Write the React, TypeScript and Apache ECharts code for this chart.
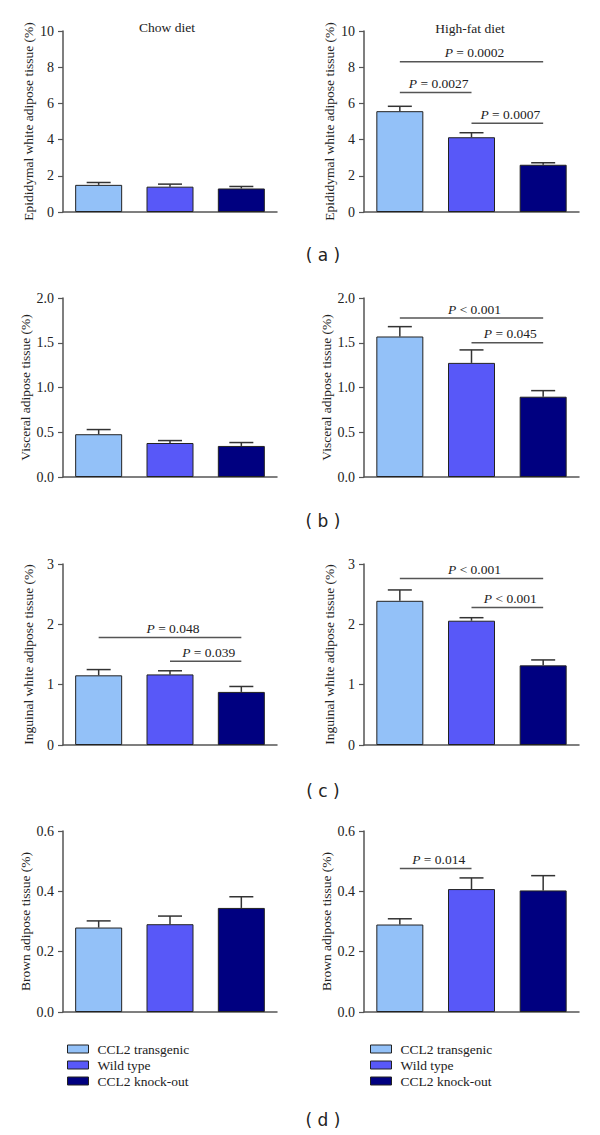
import React, { useEffect, useRef } from "react";
import * as echarts from "echarts";

const groups = ["CCL2 transgenic", "Wild type", "CCL2 knock-out"];
const colors = ["#93c1f8", "#5858f8", "#000080"];

// means and SEM per panel: [chow, high-fat]
const epiMeanChow = [1.5, 1.4, 1.3];
const epiSemChow = [0.13, 0.14, 0.11];
const epiMeanHfd = [5.57, 4.13, 2.61];
const epiSemHfd = [0.27, 0.25, 0.11];

const visMeanChow = [0.478, 0.38, 0.347];
const visSemChow = [0.052, 0.027, 0.038];
const visMeanHfd = [1.57, 1.275, 0.897];
const visSemHfd = [0.11, 0.145, 0.068];

const ingMeanChow = [1.155, 1.17, 0.88];
const ingSemChow = [0.095, 0.06, 0.09];
const ingMeanHfd = [2.39, 2.06, 1.32];
const ingSemHfd = [0.18, 0.05, 0.09];

const brnMeanChow = [0.28, 0.291, 0.345];
const brnSemChow = [0.022, 0.027, 0.037];
const brnMeanHfd = [0.29, 0.4075, 0.403];
const brnSemHfd = [0.019, 0.037, 0.049];

// significance brackets: [fromCategory, toCategory, yLevel, operator, p]
const sigEpiHfd: [number, number, number, string, string][] = [
  [0, 2, 8.3, "=", "0.0002"],
  [0, 1, 6.6, "=", "0.0027"],
  [1, 2, 4.9, "=", "0.0007"],
];
const sigVisHfd: [number, number, number, string, string][] = [
  [0, 2, 1.776, "<", "0.001"],
  [1, 2, 1.5, "=", "0.045"],
];
const sigIngChow: [number, number, number, string, string][] = [
  [0, 2, 1.78, "=", "0.048"],
  [1, 2, 1.39, "=", "0.039"],
];
const sigIngHfd: [number, number, number, string, string][] = [
  [0, 2, 2.76, "<", "0.001"],
  [1, 2, 2.28, "<", "0.001"],
];
const sigBrnHfd: [number, number, number, string, string][] = [
  [0, 1, 0.476, "=", "0.014"],
];

const yTitles = [
  "Epididymal white adipose tissue (%)",
  "Visceral adipose tissue (%)",
  "Inguinal white adipose tissue (%)",
  "Brown adipose tissue (%)",
];
const yMax = [10, 2, 3, 0.6];
const yStep = [2, 0.5, 1, 0.2];
const yDecimals = [0, 1, 0, 1];
const dietTitles = ["Chow diet", "High-fat diet"];
const panelLabels = ["( a )", "( b )", "( c )", "( d )"];

const SERIF = "'Liberation Serif', 'Times New Roman', serif";
const SANS = "'DejaVu Sans', Verdana, sans-serif";

const App: React.FC = () => {
  const ref = useRef<HTMLDivElement>(null);

  useEffect(() => {
    if (!ref.current) return;
    const chart = echarts.init(ref.current, null, { renderer: "svg" });

    const panels = [
      { row: 0, col: 0, mean: epiMeanChow, sem: epiSemChow, sig: [] as any[] },
      { row: 0, col: 1, mean: epiMeanHfd, sem: epiSemHfd, sig: sigEpiHfd },
      { row: 1, col: 0, mean: visMeanChow, sem: visSemChow, sig: [] },
      { row: 1, col: 1, mean: visMeanHfd, sem: visSemHfd, sig: sigVisHfd },
      { row: 2, col: 0, mean: ingMeanChow, sem: ingSemChow, sig: sigIngChow },
      { row: 2, col: 1, mean: ingMeanHfd, sem: ingSemHfd, sig: sigIngHfd },
      { row: 3, col: 0, mean: brnMeanChow, sem: brnSemChow, sig: [] },
      { row: 3, col: 1, mean: brnMeanHfd, sem: brnSemHfd, sig: sigBrnHfd },
    ];

    const rowTop = [31, 298, 564, 831];
    const rowBottom = [212, 477, 745, 1012];
    const colLeft = [63, 364];
    const colWidth = [214, 215];

    const grid: any[] = [];
    const xAxis: any[] = [];
    const yAxis: any[] = [];
    const series: any[] = [];

    panels.forEach((p, i) => {
      grid.push({
        left: colLeft[p.col],
        top: rowTop[p.row],
        width: colWidth[p.col],
        height: rowBottom[p.row] - rowTop[p.row],
        containLabel: false,
      });
      xAxis.push({
        type: "category",
        gridIndex: i,
        data: groups,
        boundaryGap: true,
        axisLine: { show: true, lineStyle: { color: "#555", width: 1.5 } },
        axisTick: { show: false },
        axisLabel: { show: false },
        splitLine: { show: false },
      });
      const dec = yDecimals[p.row];
      yAxis.push({
        type: "value",
        gridIndex: i,
        min: 0,
        max: yMax[p.row],
        interval: yStep[p.row],
        name: yTitles[p.row],
        nameLocation: "middle",
        nameRotate: 90,
        nameGap: 28,
        nameTextStyle: { fontFamily: SERIF, fontSize: 13.5, color: "#222" },
        axisLine: { show: true, lineStyle: { color: "#555", width: 1.5 } },
        axisTick: { show: true, length: 5, lineStyle: { color: "#555", width: 1.2 } },
        axisLabel: {
          fontFamily: SERIF,
          fontSize: 14,
          color: "#222",
          margin: 9,
          formatter: (v: number) => v.toFixed(dec),
        },
        splitLine: { show: false },
      });

      groups.forEach((g, k) => {
        series.push({
          type: "bar",
          name: g,
          xAxisIndex: i,
          yAxisIndex: i,
          barWidth: 47,
          barGap: "-100%",
          data: groups.map((_, j) => (j === k ? p.mean[j] : "-")),
          itemStyle: { color: colors[k], borderColor: "#222", borderWidth: 1 },
          z: 2,
        });
      });

      series.push({
        type: "custom",
        name: "err" + i,
        xAxisIndex: i,
        yAxisIndex: i,
        clip: false,
        z: 1,
        data: p.mean.map((m, j) => [j, m, m + p.sem[j]]),
        encode: { x: 0, y: [1, 2] },
        renderItem: (params: any, api: any) => {
          const base = api.coord([api.value(0), api.value(1)]);
          const top = api.coord([api.value(0), api.value(2)]);
          const half = 12;
          const st = { stroke: "#333", lineWidth: 1.5 };
          return {
            type: "group",
            children: [
              { type: "line", shape: { x1: base[0], y1: base[1], x2: top[0], y2: top[1] }, style: st },
              { type: "line", shape: { x1: top[0] - half, y1: top[1], x2: top[0] + half, y2: top[1] }, style: st },
            ],
          };
        },
      });

      if (p.sig.length) {
        const sig = p.sig;
        series.push({
          type: "custom",
          name: "sig" + i,
          xAxisIndex: i,
          yAxisIndex: i,
          clip: false,
          z: 3,
          data: sig.map((s: any) => [s[0], s[1], s[2]]),
          encode: { x: [0, 1], y: 2 },
          renderItem: (params: any, api: any) => {
            const s = sig[params.dataIndex];
            const a = api.coord([api.value(0), api.value(2)]);
            const b = api.coord([api.value(1), api.value(2)]);
            return {
              type: "group",
              children: [
                {
                  type: "line",
                  shape: { x1: a[0], y1: a[1], x2: b[0], y2: b[1] },
                  style: { stroke: "#555", lineWidth: 1.5 },
                },
                {
                  type: "text",
                  x: (a[0] + b[0]) / 2 + 3,
                  y: a[1] - 2,
                  style: {
                    text: "{i|P} " + s[3] + " " + s[4],
                    align: "center",
                    verticalAlign: "bottom",
                    fontFamily: SERIF,
                    fontSize: 13.5,
                    fill: "#222",
                    rich: {
                      i: { fontFamily: SERIF, fontSize: 13.5, fontStyle: "italic", fill: "#222" },
                    },
                  },
                },
              ],
            };
          },
        });
      }
    });

    const graphic: any[] = [];
    graphic.push({
      type: "text",
      x: 167,
      y: 27,
      style: { text: dietTitles[0], align: "center", verticalAlign: "middle", fontFamily: SERIF, fontSize: 13.5, fill: "#222" },
    });
    graphic.push({
      type: "text",
      x: 470,
      y: 28,
      style: { text: dietTitles[1], align: "center", verticalAlign: "middle", fontFamily: SERIF, fontSize: 13.5, fill: "#222" },
    });
    const labelY = [255, 521, 791, 1120];
    panelLabels.forEach((t, r) => {
      graphic.push({
        type: "text",
        x: 323,
        y: labelY[r],
        style: { text: t, align: "center", verticalAlign: "middle", fontFamily: SANS, fontSize: 17, fill: "#222" },
      });
    });

    const legendBase = {
      orient: "vertical",
      top: 1036,
      itemWidth: 21,
      itemHeight: 8,
      itemGap: 0,
      icon: "rect",
      data: groups,
      selectedMode: false,
      itemStyle: { borderColor: "#222", borderWidth: 1 },
      textStyle: { fontFamily: SERIF, fontSize: 13.5, color: "#222", lineHeight: 16, padding: [0, 0, 0, 4] },
    };

    chart.setOption({
      animation: false,
      backgroundColor: "#ffffff",
      grid,
      xAxis,
      yAxis,
      series,
      graphic,
      legend: [
        { ...legendBase, left: 62 },
        { ...legendBase, left: 365 },
      ],
    });

    return () => chart.dispose();
  }, []);

  return (
    <div
      ref={ref}
      style={{ position: "absolute", left: 0, top: 0, width: 600, height: 1135, background: "#fff" }}
    />
  );
};

export default App;
